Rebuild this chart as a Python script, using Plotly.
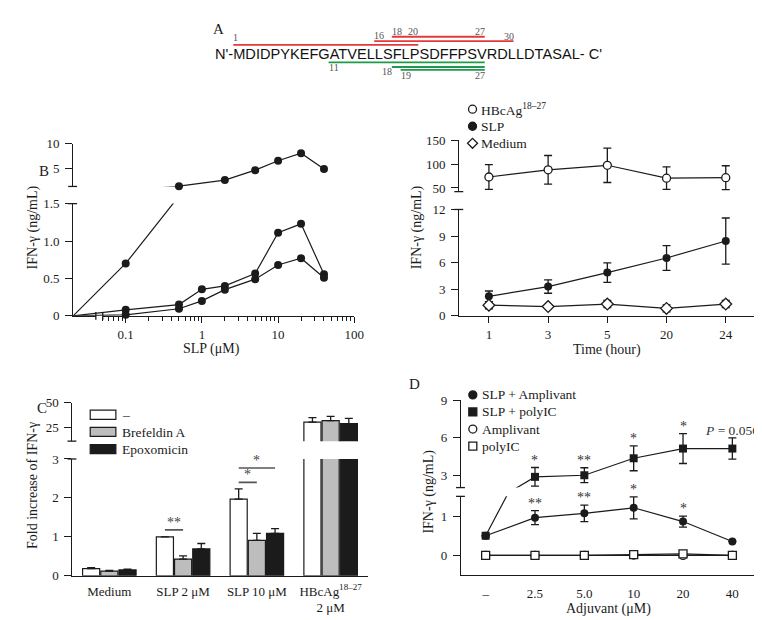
import math
import plotly.graph_objects as go

W, H = 762, 620
SERIF = "Liberation Serif"
SANS = "Liberation Sans"
INK = "#1b1b1b"
RED = "#e5383b"
GREEN = "#1f9a4b"
LABEL_GREY = "#555555"
GREY_BAR = "#bdbdbd"

# ---------------- data ----------------
# Panel A: HBcAg sequence and peptides
SEQUENCE = "MDIDPYKEFGATVELLSFLPSDFFPSVRDLLDTASAL"
RED_EPITOPES = [(1, 20), (16, 30), (18, 27)]
GREEN_EPITOPES = [(11, 27), (18, 27), (19, 27)]

# Panel B left: dose response (three donors)
B1_CONC_A = [0, 0.1, 0.5, 2, 5, 10, 20, 40]
B1_HIGH = [0, 0.70, 1.60, 2.80, 4.75, 6.60, 8.10, 5.00]
B1_CONC_B = [0, 0.1, 0.5, 1, 2, 5, 10, 20, 40]
B1_MID = [0, 0.08, 0.15, 0.355, 0.40, 0.565, 1.11, 1.23, 0.555]
B1_LOW = [0, 0.013, 0.095, 0.20, 0.35, 0.49, 0.68, 0.77, 0.51]

# Panel B right: time course
B2_TIME = ["1", "3", "5", "20", "24"]
B2_HBC = [73, 88, 97.5, 70.5, 71.5]
B2_HBC_ERR = [26, 30, 36, 23.5, 25]
B2_SLP = [2.2, 3.3, 4.88, 6.53, 8.44]
B2_SLP_ERR = [0.6, 0.75, 1.1, 1.4, 2.6]
B2_MED = [1.2, 1.05, 1.33, 0.84, 1.33]
B2_MED_ERR = [0.4, 0.12, 0.4, 0.4, 0.4]

# Panel C: fold increase with inhibitors
C_CATS = ["Medium", "SLP 2 μM", "SLP 10 μM", "HBcAg<sup>18–27</sup><br>2 μM"]
C_NAMES = ["–", "Brefeldin A", "Epoxomicin"]
C_NONE = [0.185, 1.00, 1.97, 30.0]
C_NONE_ERR = [0.025, None, 0.26, 4.6]
C_BREF = [0.118, 0.43, 0.91, 31.6]
C_BREF_ERR = [0.02, 0.08, 0.18, 4.4]
C_EPOX = [0.15, 0.69, 1.09, 28.6]
C_EPOX_ERR = [0.02, 0.14, 0.12, 5.4]
C_SIG = [(1, 0, 1, 1.18, "**"), (2, 0, 1, 2.40, "*"), (2, 0, 2, 2.77, "*")]

# Panel D: adjuvants
D_CATS = ["–", "2.5", "5.0", "10", "20", "40"]
D_SLP_AMP = [0.5, 0.96, 1.07, 1.21, 0.86, 0.355]
D_SLP_AMP_ERR = [None, 0.18, 0.21, 0.28, 0.14, None]
D_SLP_PIC = [0.5, 2.87, 3.0, 4.36, 5.14, 5.14]
D_SLP_PIC_ERR = [None, 0.75, 0.6, 1.0, 1.2, 0.85]
D_AMP = [0, 0, 0, 0.01, 0.0, 0]
D_PIC = [0, 0, 0, 0.02, 0.04, 0]
D_STARS_PIC = ["", "*", "**", "*", "*", "<i>P</i> = 0.056"]
D_STARS_AMP = ["", "**", "**", "*", "*", ""]

# ---------------- helpers ----------------
def dom_x(a, b):
    return [a / W, b / W]

def dom_y(top, bottom):
    return [1 - bottom / H, 1 - top / H]

def px(x):
    return x / W

def py(y):
    return 1 - y / H

def ax(domain, rng, anchor, **kw):
    d = dict(domain=domain, range=rng, anchor=anchor, showgrid=False, zeroline=False,
             showline=True, linecolor=INK, linewidth=1.3, ticks="outside", ticklen=7,
             tickwidth=1.3, tickcolor=INK,
             tickfont=dict(family=SERIF, size=13, color=INK), fixedrange=True)
    d.update(kw)
    return d

fig = go.Figure()
shapes, annotations = [], []

def text(t, x, y, size=13, xref="paper", yref="paper", xanchor="center", yanchor="middle",
         angle=0, color=INK, family=SERIF, **kw):
    annotations.append(dict(text=t, x=x, y=y, xref=xref, yref=yref, xanchor=xanchor,
                            yanchor=yanchor, textangle=angle, showarrow=False,
                            font=dict(family=family, size=size, color=color),
                            borderpad=0, borderwidth=0, **kw))

def dummy(xa, ya):
    fig.add_trace(go.Scatter(x=[None], y=[None], xaxis=xa, yaxis=ya, showlegend=False,
                             hoverinfo="skip"))

def series(x, y, xa, segments, marker, err=None, show=None):
    for ya, lo, hi in segments:
        fig.add_trace(go.Scatter(x=x, y=y, mode="lines", xaxis=xa, yaxis=ya,
                                 line=dict(color=INK, width=1.2), hoverinfo="skip",
                                 showlegend=False))
        idx = [i for i, v in enumerate(y) if lo <= v <= hi and (show is None or show[i])]
        if not idx:
            continue
        ed = None
        if err is not None:
            ed = dict(type="data", array=[err[i] for i in idx], visible=True, color=INK,
                      thickness=1.3, width=4)
        fig.add_trace(go.Scatter(x=[x[i] for i in idx], y=[y[i] for i in idx],
                                 mode="markers", xaxis=xa, yaxis=ya, marker=marker,
                                 error_y=ed, cliponaxis=False, hoverinfo="skip",
                                 showlegend=False))

FILLED = dict(symbol="circle", size=8, color=INK, line=dict(width=0))
OPEN_C = dict(symbol="circle", size=8, color="white", line=dict(color=INK, width=1.3))
OPEN_D = dict(symbol="diamond", size=9, color="white", line=dict(color=INK, width=1.3))
FILLED_S = dict(symbol="square", size=8, color=INK, line=dict(width=0))
OPEN_S = dict(symbol="square", size=8, color="white", line=dict(color=INK, width=1.3))

layout = dict(width=W, height=H, margin=dict(l=0, r=0, t=0, b=0), paper_bgcolor="white",
              plot_bgcolor="rgba(0,0,0,0)", showlegend=False, barmode="group",
              bargap=0.26, bargroupgap=0.06, font=dict(family=SERIF, size=13, color=INK))

# ---------------- Panel A ----------------
ARIAL = {"A": .667, "C": .722, "D": .722, "E": .667, "F": .611, "G": .778, "I": .278,
         "K": .667, "L": .556, "M": .833, "N": .722, "P": .667, "R": .722, "S": .667,
         "T": .611, "V": .667, "Y": .667, "'": .191, "-": .333, " ": .278}
FS = 14.6
X0 = 228.3
cum = [0.0]
for ch in SEQUENCE:
    cum.append(cum[-1] + ARIAL[ch])
prefix = "N'-"
pre_w = sum(ARIAL[c] for c in prefix)
layout["xaxis"] = dict(domain=[0, 1], range=[-X0 / FS, (W - X0) / FS], visible=False,
                       anchor="y", fixedrange=True)
layout["yaxis"] = dict(domain=dom_y(0, 70), range=[70, 0], visible=False, anchor="x",
                       fixedrange=True)
dummy("x", "y")
text(prefix + SEQUENCE + "- C'", -pre_w, 39.5, size=FS, xref="x", yref="y",
     xanchor="left", family=SANS, color="#111111")
RED_ROWS = [30.7, 26.7, 22.3]
GREEN_ROWS = [48.5, 53.3, 56.3]
for (s, e), row in zip(RED_EPITOPES, RED_ROWS):
    shapes.append(dict(type="line", xref="x", yref="y", x0=cum[s - 1], x1=cum[e], y0=row,
                       y1=row, line=dict(color=RED, width=1.8)))
for (s, e), row in zip(GREEN_EPITOPES, GREEN_ROWS):
    shapes.append(dict(type="line", xref="x", yref="y", x0=cum[s - 1], x1=cum[e], y0=row,
                       y1=row, line=dict(color=GREEN, width=1.8)))
A_LABELS = [("1", cum[0], "left", 23.5), ("20", cum[20], "right", 17.0),
            ("16", cum[15], "left", 20.7), ("30", cum[30], "right", 22.5),
            ("18", cum[17], "left", 16.7), ("27", cum[27], "right", 17.3),
            ("11", cum[10], "left", 54.0), ("18", cum[17], "right", 57.5),
            ("19", cum[18], "left", 61.5), ("27", cum[27], "right", 61.5)]
for t, xv, anc, row in A_LABELS:
    text(t, xv, row, size=10, xref="x", yref="y", xanchor=anc, color=LABEL_GREY)

# ---------------- Panel B left ----------------
B1_LOGMIN, B1_LOGMAX = -1.69, 2.0
B1_L, B1_R = 66.0, 350.9
dec = (B1_R - B1_L) / (B1_LOGMAX - B1_LOGMIN)
B1_ZERO = 10 ** B1_LOGMIN
brk = B1_L + (math.log10(0.05) - B1_LOGMIN) * dec
layout["xaxis2"] = dict(domain=dom_x(B1_L, B1_R), type="log", range=[B1_LOGMIN, B1_LOGMAX],
                        visible=False, anchor="y2", fixedrange=True)
layout["yaxis2"] = ax(dom_y(193.3, 308.3), [0, 1.5], "x2", tickvals=[0, 0.5, 1.0, 1.5],
                      ticktext=["0", "0.5", "1.0", "1.5"], ticklabelstandoff=3)
layout["yaxis3"] = ax(dom_y(131.7, 175.7), [1.54, 10], "x2", tickvals=[5, 10],
                      ticklabelstandoff=3)
minor_vals = [k * 10 ** e for e in (-2, -1, 0, 1) for k in range(2, 10)
              if 0.05 <= k * 10 ** e <= 100]
layout["xaxis3"] = ax(dom_x(brk, B1_R), [math.log10(0.05), 2], "y2", type="log",
                      tickvals=[0.1, 1, 10, 100], ticktext=["0.1", "1", "10", "100"],
                      ticklen=6,
                      minor=dict(tickvals=minor_vals, ticks="outside", ticklen=4,
                                 tickwidth=1, tickcolor=INK, showgrid=False))
layout["xaxis4"] = ax(dom_x(B1_L, 89), [0, 1], "y2", ticks="", showticklabels=False)
dummy("x3", "y2")
dummy("x4", "y2")
xa_ = [c if c > 0 else B1_ZERO for c in B1_CONC_A]
xb_ = [c if c > 0 else B1_ZERO for c in B1_CONC_B]
segB1 = [("y2", 0, 1.5), ("y3", 1.54, 10)]
series(xa_, B1_HIGH, "x2", segB1, FILLED, show=[c > 0 for c in B1_CONC_A])
series(xb_, B1_MID, "x2", segB1, FILLED, show=[c > 0 for c in B1_CONC_B])
series(xb_, B1_LOW, "x2", segB1, FILLED, show=[c > 0 for c in B1_CONC_B])

# ---------------- Panel B right ----------------
layout["xaxis5"] = ax(dom_x(457.3, 757.3), [-0.5, 4.5], "y4", type="category",
                      categoryorder="array", categoryarray=B2_TIME, ticklen=6)
layout["yaxis4"] = ax(dom_y(199.3, 308.3), [0, 12], "x5", tickvals=[0, 3, 6, 9, 12],
                      ticklabelstandoff=3)
layout["yaxis5"] = ax(dom_y(128.3, 181), [42.4, 150], "x5", tickvals=[50, 100, 150],
                      ticklabelstandoff=3)
segB2 = [("y4", 0, 12), ("y5", 42.4, 150)]
series(B2_TIME, B2_HBC, "x5", segB2, OPEN_C, err=B2_HBC_ERR)
series(B2_TIME, B2_SLP, "x5", segB2, FILLED, err=B2_SLP_ERR)
series(B2_TIME, B2_MED, "x5", segB2, OPEN_D, err=B2_MED_ERR)

# ---------------- Panel C ----------------
layout["xaxis6"] = ax(dom_x(65.3, 364.3), [-0.5, 3.5], "y6", type="category",
                      categoryorder="array", categoryarray=C_CATS, ticks="",
                      ticklabelstandoff=3)
layout["yaxis6"] = ax(dom_y(455, 574.7), [0, 3], "x6", tickvals=[0, 1, 2, 3],
                      ticklabelstandoff=3)
layout["yaxis7"] = ax(dom_y(397.3, 436.7), [10.6, 50], "x6", tickvals=[25, 50],
                      ticklabelstandoff=3)
groups = [(C_NONE, C_NONE_ERR, "white"), (C_BREF, C_BREF_ERR, GREY_BAR),
          (C_EPOX, C_EPOX_ERR, INK)]
for ya, lo, hi in [("y6", 0, 3), ("y7", 10.6, 50)]:
    for vals, errs, col in groups:
        e_up = [e if (e is not None and lo <= v <= hi) else None for v, e in zip(vals, errs)]
        e_dn = [0 if e is not None else None for e in e_up]
        fig.add_trace(go.Bar(x=C_CATS, y=vals, xaxis="x6", yaxis=ya,
                             marker=dict(color=col, line=dict(color=INK, width=1.2)),
                             error_y=dict(type="data", symmetric=False, array=e_up,
                                          arrayminus=e_dn, color=INK, thickness=1.3,
                                          width=4, visible=True),
                             hoverinfo="skip", showlegend=False))
slot = (1 - layout["bargap"]) / 3
for cat, a, b, h, lab in C_SIG:
    x0 = cat + (a - 1) * slot
    x1 = cat + (b - 1) * slot
    shapes.append(dict(type="line", xref="x6", yref="y6", x0=x0, x1=x1, y0=h, y1=h,
                       line=dict(color="#555555", width=1.6)))
    text(lab, (x0 + x1) / 2, h, size=14, xref="x6", yref="y6", yanchor="bottom",
         color="#444444")
# legend C
for i, (name, (_, _, col)) in enumerate(zip(C_NAMES, groups)):
    top = 405 + i * 17.6
    shapes.append(dict(type="rect", xref="paper", yref="paper", x0=px(83.3), x1=px(109.3),
                       y0=py(top + 9.3), y1=py(top), fillcolor=col,
                       line=dict(color=INK, width=1.2)))
    text(name, px(116), py(top + 4.8), xanchor="left", size=13.5)

# ---------------- Panel D ----------------
layout["xaxis7"] = ax(dom_x(459, 759), [-0.5, 5.5], "y8", type="category",
                      categoryorder="array", categoryarray=D_CATS, ticks="",
                      ticklabelstandoff=6)
layout["yaxis8"] = ax(dom_y(493.3, 574), [-0.5, 1.5], "x7", tickvals=[0, 1],
                      ticklabelstandoff=3)
layout["yaxis9"] = ax(dom_y(395, 484.3), [2.01, 9], "x7", tickvals=[3, 6, 9],
                      ticklabelstandoff=3)
segD = [("y8", -0.5, 1.5), ("y9", 2.01, 9)]
series(D_CATS, D_AMP, "x7", segD, OPEN_C)
series(D_CATS, D_PIC, "x7", segD, OPEN_S)
series(D_CATS, D_SLP_AMP, "x7", segD, FILLED, err=D_SLP_AMP_ERR)
series(D_CATS, D_SLP_PIC, "x7", segD, FILLED_S, err=D_SLP_PIC_ERR)
for i, s in enumerate(D_STARS_PIC):
    if s:
        top = D_SLP_PIC[i] + (D_SLP_PIC_ERR[i] or 0)
        text(s, i, top, size=14 if "*" in s else 13.5, xref="x7", yref="y9",
             yanchor="bottom", color="#333333")
for i, s in enumerate(D_STARS_AMP):
    if s:
        top = D_SLP_AMP[i] + (D_SLP_AMP_ERR[i] or 0)
        text(s, i, top, size=14, xref="x7", yref="y8", yanchor="bottom", color="#333333")

# ---------------- axis break end bars ----------------
def hbar(xc, yc):
    shapes.append(dict(type="line", xref="paper", yref="paper", x0=px(xc - 5), x1=px(xc + 4),
                       y0=py(yc), y1=py(yc), line=dict(color=INK, width=1.3)))

def vbar(xc, yc):
    shapes.append(dict(type="line", xref="paper", yref="paper", x0=px(xc), x1=px(xc),
                       y0=py(yc - 4), y1=py(yc + 4), line=dict(color=INK, width=1.3)))

hbar(B1_L, 175.7); hbar(B1_L, 193.3)
vbar(89, 308.3); vbar(brk, 308.3)
hbar(457.3, 181); hbar(457.3, 199.3)
hbar(65.3, 436.7); hbar(65.3, 455)
hbar(459, 484.3); hbar(459, 493.3)

# ---------------- legends (B right, D) ----------------
def sym(kind, cx, cy):
    base = dict(xref="paper", yref="paper", xsizemode="pixel", ysizemode="pixel",
                xanchor=px(cx), yanchor=py(cy), line=dict(color=INK, width=1.3))
    if kind in ("open_c", "filled_c"):
        base.update(type="circle", x0=-4, x1=4, y0=-4, y1=4,
                    fillcolor="white" if kind == "open_c" else INK)
    elif kind in ("open_s", "filled_s"):
        base.update(type="rect", x0=-4, x1=4, y0=-4, y1=4,
                    fillcolor="white" if kind == "open_s" else INK)
    else:
        base.update(type="path", path="M0,-5 L5,0 L0,5 L-5,0 Z", fillcolor="white")
    shapes.append(base)

B2_LEGEND = [("open_c", "HBcAg<sup>18–27</sup>"), ("filled_c", "SLP"), ("open_d", "Medium")]
for i, (k, t) in enumerate(B2_LEGEND):
    cy = 96.5 + i * 17.5
    sym(k, 470.7, cy)
    text(t, px(479.5), py(cy), xanchor="left", size=13.5)
D_LEGEND = [("filled_c", "SLP + Amplivant"), ("filled_s", "SLP + polyIC"),
            ("open_c", "Amplivant"), ("open_s", "polyIC")]
for i, (k, t) in enumerate(D_LEGEND):
    cy = 389.3 + i * 17.5
    sym(k, 471, cy)
    text(t, px(480), py(cy), xanchor="left", size=13.5)

# ---------------- titles & panel letters ----------------
TS = 14
text("IFN-γ (ng/mL)", px(25), py(218), angle=-90, size=TS)
text("SLP (μM)", px(206.7), py(342), size=TS)
text("IFN-γ (ng/mL)", px(414), py(218), angle=-90, size=TS)
text("Time (hour)", px(607), py(343), size=TS)
text("Fold increase of IFN-γ", px(25), py(482), angle=-90, size=TS)
text("IFN-γ (ng/mL)", px(427), py(488), angle=-90, size=TS)
text("Adjuvant (μM)", px(608), py(609), size=TS)
for lab, x, y in [("A", 213, 14), ("B", 36, 160), ("C", 34, 403), ("D", 412, 378)]:
    text(lab, px(x), py(y), size=15)

layout["shapes"] = shapes
layout["annotations"] = annotations
fig.update_layout(**layout)
fig.write_html("out.html")
